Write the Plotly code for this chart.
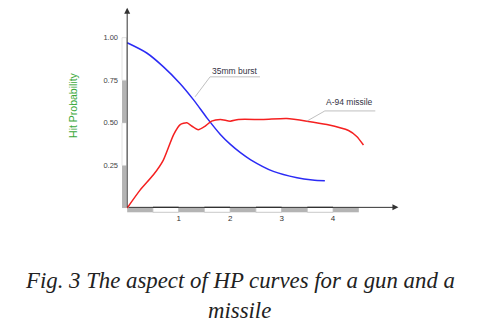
import plotly.graph_objects as go

# ---- data ----
burst_range = [0.0, 0.38, 0.70, 1.03, 1.29, 1.56, 1.81, 2.0, 2.2, 2.4, 2.84, 3.30, 3.60, 3.84]
burst_hp = [0.97, 0.91, 0.83, 0.73, 0.635, 0.525, 0.432, 0.375, 0.325, 0.283, 0.215, 0.178, 0.165, 0.16]

missile_range = [0.0, 0.25, 0.51, 0.70, 0.90, 1.03, 1.16, 1.26, 1.38, 1.51, 1.64, 1.81, 2.0, 2.16,
                 2.65, 3.10, 3.49, 3.88, 4.30, 4.46, 4.59]
missile_hp = [0.0, 0.105, 0.195, 0.28, 0.43, 0.49, 0.50, 0.48, 0.46, 0.48, 0.51, 0.52, 0.51, 0.52,
              0.52, 0.525, 0.51, 0.49, 0.455, 0.42, 0.37]

x_ticks = [1, 2, 3, 4]
x_tick_labels = ["1", "2", "3", "4"]
y_ticks = [0.25, 0.5, 0.75, 1.0]
y_tick_labels = ["0.25", "0.50", "0.75", "1.00"]

series_names = ["35mm burst", "A-94 missile"]
y_title = "Hit Probability"
x_title = "Range [km]"
caption_1 = "Fig. 3 The aspect of HP curves for a gun and a"
caption_2 = "missile"

fig = go.Figure()
fig.add_trace(go.Scatter(x=burst_range, y=burst_hp, mode="lines", name=series_names[0],
                         line=dict(color="#2b2bf5", width=1.5, shape="spline", smoothing=0.8)))
fig.add_trace(go.Scatter(x=missile_range, y=missile_hp, mode="lines", name=series_names[1],
                         line=dict(color="#f52020", width=1.5, shape="spline", smoothing=0.6)))

shapes = []
# x axis striped bar
for i in range(9):
    x0 = i * 0.5
    gray = (i % 2 == 0)
    shapes.append(dict(type="rect", xref="x", yref="y", x0=x0, x1=x0 + 0.5, y0=-0.025, y1=0.004,
                       fillcolor="#b4b4b4" if gray else "white",
                       line=dict(width=0.8, color="#bbbbbb") if not gray else dict(width=0),
                       layer="below"))
    if not gray:
        shapes.append(dict(type="line", xref="x", yref="y", x0=x0, x1=x0 + 0.5, y0=0.004, y1=0.004,
                           line=dict(color="#222222", width=1.2)))
# y axis striped bar
for i in range(4):
    y0 = i * 0.25
    gray = (i % 2 == 0)
    shapes.append(dict(type="rect", xref="x", yref="y", x0=-0.1, x1=-0.012, y0=y0, y1=y0 + 0.25,
                       fillcolor="#b4b4b4" if gray else "white",
                       line=dict(width=0.6, color="#cccccc") if not gray else dict(width=0),
                       layer="below"))
# leader lines
shapes.append(dict(type="line", xref="x", yref="y", x0=1.32, y0=0.653, x1=1.61, y1=0.77,
                   line=dict(color="#b0b0b0", width=0.8)))
shapes.append(dict(type="line", xref="x", yref="y", x0=1.61, y0=0.77, x1=2.58, y1=0.77,
                   line=dict(color="#b0b0b0", width=0.8)))
shapes.append(dict(type="line", xref="x", yref="y", x0=3.49, y0=0.51, x1=3.84, y1=0.57,
                   line=dict(color="#b0b0b0", width=0.8)))
shapes.append(dict(type="line", xref="x", yref="y", x0=3.84, y0=0.57, x1=4.82, y1=0.57,
                   line=dict(color="#b0b0b0", width=0.8)))

annotations = [
    # axis arrows
    dict(x=0, y=1.175, ax=0, ay=-0.005, xref="x", yref="y", axref="x", ayref="y", text="",
         showarrow=True, arrowhead=2, arrowsize=1.2, arrowwidth=1, arrowcolor="#333333"),
    dict(x=5.27, y=0.004, ax=0, ay=0.004, xref="x", yref="y", axref="x", ayref="y", text="",
         showarrow=True, arrowhead=2, arrowsize=1.2, arrowwidth=1, arrowcolor="#333333"),
    dict(x=2.1, y=0.805, xref="x", yref="y", text=series_names[0], showarrow=False,
         font=dict(family="Liberation Sans, Arial", size=8.5, color="#333344")),
    dict(x=4.31, y=0.62, xref="x", yref="y", text=series_names[1], showarrow=False,
         font=dict(family="Liberation Sans, Arial", size=8.5, color="#333344")),
    dict(x=4.86, y=-0.1, xref="x", yref="y", text=x_title, showarrow=False,
         font=dict(family="Liberation Sans, Arial", size=9.5, color="#333333")),
    dict(x=-0.172, y=0.527, xref="paper", yref="paper", text=y_title, showarrow=False, textangle=-90,
         xanchor="center", yanchor="middle",
         font=dict(family="Liberation Sans, Arial", size=10.5, color="#3aa83a")),
    dict(x=0.4265, y=-0.319, xref="paper", yref="paper", text="<i>" + caption_1 + "</i>", showarrow=False,
         font=dict(family="Liberation Serif, Times New Roman, serif", size=22.8, color="#222222"),
         xanchor="center", yanchor="middle"),
    dict(x=0.4265, y=-0.464, xref="paper", yref="paper", text="<i>" + caption_2 + "</i>", showarrow=False,
         font=dict(family="Liberation Serif, Times New Roman, serif", size=22.8, color="#222222"),
         xanchor="center", yanchor="middle"),
]

fig.update_layout(
    width=500, height=326,
    margin=dict(l=121, r=100, t=7, b=112),
    paper_bgcolor="white", plot_bgcolor="white",
    showlegend=False,
    shapes=shapes, annotations=annotations,
    xaxis=dict(range=[-0.12, 5.3], showgrid=False, zeroline=False, showline=False,
               tickvals=x_ticks, ticktext=x_tick_labels, ticks="",
               tickfont=dict(family="Liberation Sans, Arial", size=8, color="#333333")),
    yaxis=dict(range=[-0.035, 1.18], showgrid=False, zeroline=False, showline=False,
               tickvals=y_ticks, ticktext=y_tick_labels, ticks="",
               tickfont=dict(family="Liberation Sans, Arial", size=7.5, color="#444444")),
)
fig.update_xaxes(ticklabelstandoff=-2)
fig.update_yaxes(ticklabelstandoff=2)

fig.write_html("out.html")
